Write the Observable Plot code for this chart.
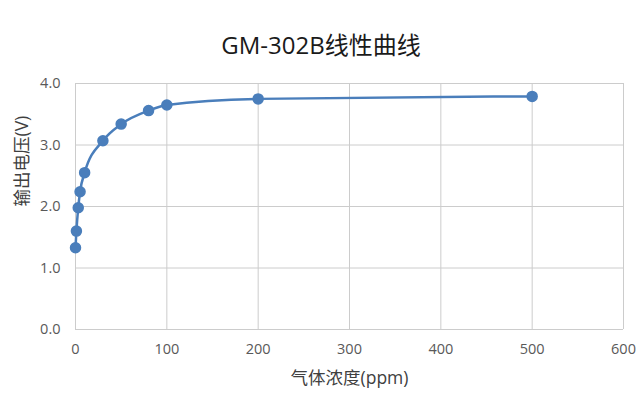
<!DOCTYPE html>
<html>
<head>
<meta charset="utf-8">
<script src="https://cdn.jsdelivr.net/npm/d3@7"></script>
<script src="https://cdn.jsdelivr.net/npm/@observablehq/plot@0.6"></script>
<style>
  body { margin: 0; background: #fff; }
  #title { position: relative; height: 62px; width: 642px; font-family: "Open Sans", "Noto Sans CJK SC", sans-serif; font-size: 24px; color: #1a1a1a; }
  #title span { position: absolute; left: 0; right: 0; text-align: center; top: 28px; line-height: 34px; }
</style>
</head>
<body>
<div id="title"><span>GM-302B线性曲线</span></div>
<div id="chart"></div>
<script>
const concentration = [0, 1, 3, 5, 10, 30, 50, 80, 100, 200, 500];
const voltage = [1.33, 1.60, 1.98, 2.24, 2.55, 3.07, 3.34, 3.56, 3.65, 3.75, 3.79];
const xTicks = [0, 100, 200, 300, 400, 500, 600];
const yTicks = [0, 1, 2, 3, 4];
const xLabel = "气体浓度(ppm)";
const yLabel = "输出电压(V)";

const data = concentration.map((c, i) => ({x: c, y: voltage[i]}));
const blue = "#4a7ebb";
const grid = "#cccccc";

const chart = Plot.plot({
  width: 642,
  height: 343,
  marginLeft: 75,
  marginRight: 19,
  marginTop: 21,
  marginBottom: 76,
  style: {fontFamily: "'Open Sans', 'Noto Sans CJK SC', sans-serif", fontSize: "14px", color: "#595959", background: "#fff"},
  x: {domain: [0, 600]},
  y: {domain: [0, 4]},
  marks: [
    Plot.ruleX(xTicks, {stroke: grid, strokeWidth: 1}),
    Plot.ruleY(yTicks, {stroke: grid, strokeWidth: 1}),
    Plot.axisX({ticks: xTicks, tickSize: 0, tickPadding: 14, label: null, fill: "#595959", fontSize: 14.5}),
    Plot.axisY({ticks: yTicks, tickSize: 0, tickPadding: 15, label: null, tickFormat: d3.format(".1f"), fill: "#595959", fontSize: 14.5}),
    Plot.line(data, {x: "x", y: "y", stroke: blue, strokeWidth: 2.5, curve: "monotone-x"}),
    Plot.dot(data, {x: "x", y: "y", r: 5, fill: blue, stroke: blue}),
    Plot.text([xLabel], {frameAnchor: "bottom", dy: 49, fill: "#404040", fontSize: 17.5, lineAnchor: "middle"}),
    Plot.text([yLabel], {frameAnchor: "left", dx: -53, rotate: -90, fill: "#404040", fontSize: 17.5})
  ]
});
document.getElementById("chart").appendChild(chart);
</script>
</body>
</html>
